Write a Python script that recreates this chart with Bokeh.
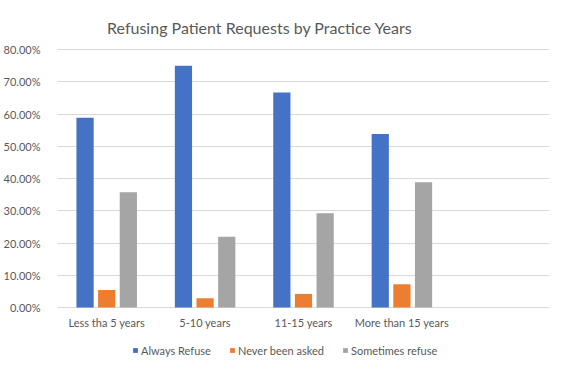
from bokeh.plotting import figure
from bokeh.models import (ColumnDataSource, Range1d, FixedTicker, NumeralTickFormatter,
                          Legend, LegendItem)
from bokeh.embed import file_html
from bokeh.resources import INLINE

title_text = "Refusing Patient Requests by Practice Years"
categories = ["Less tha 5 years", "5-10 years", "11-15 years", "More than 15 years", ""]
series_names = ["Always Refuse", "Never been asked", "Sometimes refuse"]
always_refuse = [0.588, 0.750, 0.667, 0.538]
never_asked = [0.054, 0.029, 0.042, 0.072]
sometimes_refuse = [0.357, 0.219, 0.292, 0.388]
colors = ["#4472C4", "#ED7D31", "#A5A5A5"]
y_ticks = [0.0, 0.1, 0.2, 0.3, 0.4, 0.5, 0.6, 0.7, 0.8]

FONT = "Lato"
TXT = "#595959"

W, H = 556, 362
LEFT, RIGHT = 47, 7           # frame margins (px)
GRID_TOP = 49                 # pixel row of the 80% line
ZERO = 307                    # pixel row of the 0 baseline
TITLE_BASE = 27               # pixel row of the title baseline
TITLE_CX = 206.5              # title centre, px from frame left
y_max = 0.8
px_per_unit = (ZERO - GRID_TOP) / y_max
y_lo = -(H - ZERO) / px_per_unit
y_hi = y_max + GRID_TOP / px_per_unit
n_cat = len(categories)
frame_w = W - LEFT - RIGHT

p = figure(width=W, height=H, output_backend="svg", toolbar_location=None,
           x_range=Range1d(0, n_cat), y_range=Range1d(y_lo, y_hi),
           min_border_left=LEFT, min_border_right=RIGHT, min_border_top=0, min_border_bottom=0)
p.title = None
p.outline_line_color = None
p.background_fill_color = "white"
p.border_fill_color = "white"

centers = [i + 0.5 for i in range(n_cat)]
offsets = [-0.22, 0.0, 0.22]
data = [always_refuse, never_asked, sometimes_refuse]
renderers = []
for k, vals in enumerate(data):
    xs = [centers[i] + offsets[k] for i in range(len(vals))]
    src = ColumnDataSource(dict(x=xs, top=vals))
    r = p.vbar(x="x", top="top", width=0.175, bottom=0, source=src,
               fill_color=colors[k], line_color=None)
    renderers.append(r)

# category labels (x axis)
p.xaxis.visible = False
lab_src = ColumnDataSource(dict(x=centers, y=[0.0] * n_cat, t=categories))
p.text(x="x", y="y", text="t", source=lab_src, text_align="center", text_baseline="top",
       y_offset=8, text_font={"value": FONT}, text_font_size="11px", text_color=TXT)

# title
t_src = ColumnDataSource(dict(x=[TITLE_CX / frame_w * n_cat],
                              y=[y_max + (GRID_TOP - TITLE_BASE) / px_per_unit],
                              t=[title_text]))
p.text(x="x", y="y", text="t", source=t_src, text_align="center", text_baseline="alphabetic",
       text_font={"value": FONT}, text_font_size="16px", text_color=TXT)

p.yaxis.ticker = FixedTicker(ticks=y_ticks)
p.yaxis.formatter = NumeralTickFormatter(format="0.00%")
p.yaxis.axis_line_color = None
p.yaxis.major_tick_line_color = None
p.yaxis.minor_tick_line_color = None
p.yaxis.major_label_text_font = FONT
p.yaxis.major_label_text_font_size = "11px"
p.yaxis.major_label_text_color = TXT
p.yaxis.major_label_standoff = 11

p.xgrid.grid_line_color = None
p.ygrid.ticker = FixedTicker(ticks=y_ticks)
p.ygrid.grid_line_color = "#D9D9D9"
p.ygrid.grid_line_width = 1

legend = Legend(items=[LegendItem(label=n, renderers=[r]) for n, r in zip(series_names, renderers)],
                orientation="horizontal", location=(75, 2),
                glyph_width=6, glyph_height=6, label_standoff=3, spacing=18, label_height=20,
                label_text_font=FONT, label_text_font_size="11px", label_text_color=TXT,
                padding=0, margin=0, border_line_color=None, background_fill_alpha=0)
p.add_layout(legend, "center")

open("out.html", "w").write(file_html(p, INLINE))
